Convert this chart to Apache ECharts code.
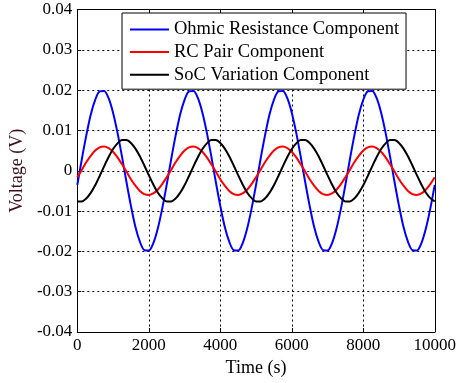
<!DOCTYPE html>
<html>
<head>
<meta charset="utf-8">
<script src="https://cdn.jsdelivr.net/npm/echarts@6/dist/echarts.min.js"></script>
<style>html,body{margin:0;padding:0;background:#fff;}#c{width:459px;height:383px;}</style>
</head>
<body>
<div id="c"></div>
<script>
// Time axis samples (s)
const times = [];
for (let t = 0; t <= 10000; t += 125) times.push(t);

// Values, one period (20 samples of 125 s), repeated 4x
const ohmic = [
 -0.0035, 0.0028, 0.0087, 0.0139, 0.0176, 0.0197, 0.0198, 0.0180, 0.0144, 0.0094,
  0.0035,-0.0028,-0.0087,-0.0139,-0.0176,-0.0197,-0.0198,-0.0180,-0.0144,-0.0094,
 -0.0035, 0.0028, 0.0087, 0.0139, 0.0176, 0.0197, 0.0198, 0.0180, 0.0144, 0.0094,
  0.0035,-0.0028,-0.0087,-0.0139,-0.0176,-0.0197,-0.0198,-0.0180,-0.0144,-0.0094,
 -0.0035, 0.0028, 0.0087, 0.0139, 0.0176, 0.0197, 0.0198, 0.0180, 0.0144, 0.0094,
  0.0035,-0.0028,-0.0087,-0.0139,-0.0176,-0.0197,-0.0198,-0.0180,-0.0144,-0.0094,
 -0.0035, 0.0028, 0.0087, 0.0139, 0.0176, 0.0197, 0.0198, 0.0180, 0.0144, 0.0094,
  0.0035,-0.0028,-0.0087,-0.0139,-0.0176,-0.0197,-0.0198,-0.0180,-0.0144,-0.0094,
 -0.0035
];
const rcPair = [
 -0.0016, 0.0002, 0.0021, 0.0037, 0.0050, 0.0058, 0.0060, 0.0056, 0.0047, 0.0033,
  0.0016,-0.0002,-0.0021,-0.0037,-0.0050,-0.0058,-0.0060,-0.0056,-0.0047,-0.0033,
 -0.0016, 0.0002, 0.0021, 0.0037, 0.0050, 0.0058, 0.0060, 0.0056, 0.0047, 0.0033,
  0.0016,-0.0002,-0.0021,-0.0037,-0.0050,-0.0058,-0.0060,-0.0056,-0.0047,-0.0033,
 -0.0016, 0.0002, 0.0021, 0.0037, 0.0050, 0.0058, 0.0060, 0.0056, 0.0047, 0.0033,
  0.0016,-0.0002,-0.0021,-0.0037,-0.0050,-0.0058,-0.0060,-0.0056,-0.0047,-0.0033,
 -0.0016, 0.0002, 0.0021, 0.0037, 0.0050, 0.0058, 0.0060, 0.0056, 0.0047, 0.0033,
  0.0016,-0.0002,-0.0021,-0.0037,-0.0050,-0.0058,-0.0060,-0.0056,-0.0047,-0.0033,
 -0.0016
];
const socVar = [
 -0.0076,-0.0076,-0.0069,-0.0055,-0.0036,-0.0013, 0.0011, 0.0034, 0.0054, 0.0068,
  0.0076, 0.0076, 0.0069, 0.0055, 0.0036, 0.0013,-0.0011,-0.0034,-0.0054,-0.0068,
 -0.0076,-0.0076,-0.0069,-0.0055,-0.0036,-0.0013, 0.0011, 0.0034, 0.0054, 0.0068,
  0.0076, 0.0076, 0.0069, 0.0055, 0.0036, 0.0013,-0.0011,-0.0034,-0.0054,-0.0068,
 -0.0076,-0.0076,-0.0069,-0.0055,-0.0036,-0.0013, 0.0011, 0.0034, 0.0054, 0.0068,
  0.0076, 0.0076, 0.0069, 0.0055, 0.0036, 0.0013,-0.0011,-0.0034,-0.0054,-0.0068,
 -0.0076,-0.0076,-0.0069,-0.0055,-0.0036,-0.0013, 0.0011, 0.0034, 0.0054, 0.0068,
  0.0076, 0.0076, 0.0069, 0.0055, 0.0036, 0.0013,-0.0011,-0.0034,-0.0054,-0.0068,
 -0.0076
];
const seriesNames = ['Ohmic Resistance Component', 'RC Pair Component', 'SoC Variation Component'];
const seriesColors = ['#0000ff', '#ff0000', '#000000'];
const xTicks = [0, 2000, 4000, 6000, 8000, 10000];
const yTicks = [-0.04, -0.03, -0.02, -0.01, 0, 0.01, 0.02, 0.03, 0.04];

const FONT = '"Liberation Serif", "Times New Roman", serif';
const zip = (xs, ys) => xs.map((x, i) => [x, ys[i]]);

const xBase = {
  type: 'value', min: xTicks[0], max: xTicks[xTicks.length - 1], interval: xTicks[1] - xTicks[0]
};
const yBase = {
  type: 'value', min: yTicks[0], max: yTicks[yTicks.length - 1], interval: 0.01
};

const chart = echarts.init(document.getElementById('c'), null, { renderer: 'canvas' });
chart.setOption({
  animation: false,
  backgroundColor: '#fff',
  grid: { left: 76, right: 23, top: 9.5, bottom: 51, containLabel: false },
  legend: {
    orient: 'vertical', left: 122, top: 13,
    padding: [7, 7, 5, 8], itemGap: 3.6, itemWidth: 39, itemHeight: 2,
    icon: 'rect',
    backgroundColor: '#fff', borderColor: '#000', borderWidth: 1,
    textStyle: { fontFamily: FONT, fontSize: 18.5, color: '#000' },
    data: seriesNames.map((n, i) => ({ name: n, icon: 'rect', itemStyle: { color: seriesColors[i] } }))
  },
  xAxis: [
    Object.assign({}, xBase, {
      position: 'bottom',
      name: 'Time (s)', nameLocation: 'middle', nameGap: 25,
      nameTextStyle: { fontFamily: FONT, fontSize: 18, color: '#000' },
      axisLine: { show: true, onZero: false, lineStyle: { color: '#000', width: 1 } },
      axisTick: { show: true, inside: true, length: 4, lineStyle: { color: '#000' } },
      axisLabel: { fontFamily: FONT, fontSize: 17, color: '#000', margin: 5,
        formatter: v => String(v) },
      splitLine: { show: true, lineStyle: { color: '#000', type: [2, 3], width: 1 } }
    }),
    Object.assign({}, xBase, {
      position: 'top',
      axisLine: { show: true, onZero: false, lineStyle: { color: '#000', width: 1 } },
      axisTick: { show: true, inside: true, length: 4, lineStyle: { color: '#000' } },
      axisLabel: { show: false },
      splitLine: { show: false }
    })
  ],
  yAxis: [
    Object.assign({}, yBase, {
      position: 'left',
      name: 'Voltage (V)', nameLocation: 'middle', nameGap: 46,
      nameTextStyle: { fontFamily: FONT, fontSize: 18, color: '#3b0f1f' },
      axisLine: { show: true, onZero: false, lineStyle: { color: '#000', width: 1 } },
      axisTick: { show: true, inside: true, length: 4, lineStyle: { color: '#000' } },
      axisLabel: {
        fontFamily: FONT, fontSize: 17, color: '#000', margin: 5,
        formatter: v => String(parseFloat(v.toFixed(2)))
      },
      splitLine: { show: true, lineStyle: { color: '#000', type: [2, 3], width: 1 } }
    }),
    Object.assign({}, yBase, {
      position: 'right',
      axisLine: { show: true, onZero: false, lineStyle: { color: '#000', width: 1 } },
      axisTick: { show: true, inside: true, length: 4, lineStyle: { color: '#000' } },
      axisLabel: { show: false },
      splitLine: { show: false }
    })
  ],
  series: seriesNames.map((n, i) => ({
    name: n, type: 'line', data: zip(times, [ohmic, rcPair, socVar][i]), smooth: 0.3, symbol: 'none',
    lineStyle: { color: seriesColors[i], width: 2 }, itemStyle: { color: seriesColors[i] }, z: 3 + i
  }))
});
</script>
</body>
</html>
